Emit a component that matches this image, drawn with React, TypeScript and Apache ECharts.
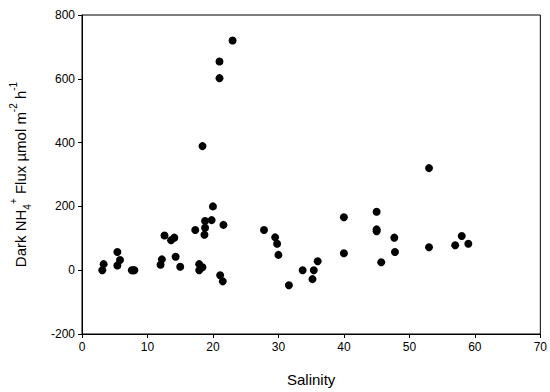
import React, { useEffect, useRef } from "react";
import * as echarts from "echarts";

const salinity = [3.1, 3.3, 5.4, 5.4, 5.8, 7.6, 7.8, 8.0, 12.0, 12.2, 12.6, 13.6, 14.1, 14.3, 15.0, 17.3, 18.4, 17.9, 17.9, 18.4, 18.7, 18.8, 18.8, 19.8, 20.0, 21.0, 21.0, 23.0, 21.6, 21.1, 21.5, 27.8, 29.5, 29.8, 30.0, 31.6, 33.7, 35.4, 35.2, 36.0, 40.0, 40.0, 45.0, 45.0, 45.0, 45.7, 47.7, 47.8, 53.0, 53.0, 57.0, 58.0, 59.0];
const flux = [0, 19, 57, 15, 32, 0, 0, 0, 17, 34, 109, 94, 102, 42, 11, 126, 389, 19, 0, 9, 111, 133, 154, 157, 200, 654, 602, 720, 142, -16, -35, 126, 103, 83, 48, -47, 0, 0, -28, 28, 166, 53, 183, 128, 122, 25, 102, 57, 320, 72, 78, 107, 83];

const xTitle = "Salinity";
const FONT = "Liberation Sans, Arial, sans-serif";

export default function App() {
  const ref = useRef<HTMLDivElement>(null);
  useEffect(() => {
    if (!ref.current) return;
    const chart = echarts.init(ref.current, null, { renderer: "svg" });
    const points = salinity.map((s, i) => [s, flux[i]]);
    chart.setOption({
      animation: false,
      backgroundColor: "#fff",
      textStyle: { fontFamily: FONT },
      grid: {
        left: 81,
        right: 8,
        top: 15,
        bottom: 58,
        show: true,
        borderColor: "#000",
        borderWidth: 1,
      },
      xAxis: {
        type: "value",
        min: 0,
        max: 70,
        interval: 10,
        name: xTitle,
        nameLocation: "middle",
        nameGap: 38,
        nameTextStyle: { fontSize: 15, color: "#000", fontFamily: FONT },
        axisLine: { show: true, onZero: false, lineStyle: { color: "#000", width: 1 } },
        axisTick: { show: true, inside: false, length: 4, lineStyle: { color: "#000" } },
        axisLabel: { fontSize: 12, color: "#000", margin: 7, fontFamily: FONT },
        splitLine: { show: false },
      },
      yAxis: {
        type: "value",
        min: -200,
        max: 800,
        interval: 200,
        name: "{b|Dark NH}{sub|4}{sup|+}{b| Flux µmol m}{sup|-2}{b| h}{sup|-1}",
        nameLocation: "middle",
        nameRotate: 90,
        nameGap: 50,
        nameTextStyle: {
          color: "#000",
          fontFamily: FONT,
          rich: {
            b: { fontSize: 15, color: "#000", fontFamily: FONT, lineHeight: 24, verticalAlign: "middle" },
            sub: { fontSize: 10, color: "#000", fontFamily: FONT, lineHeight: 24, verticalAlign: "bottom" },
            sup: { fontSize: 10, color: "#000", fontFamily: FONT, lineHeight: 24, verticalAlign: "top" },
          },
        },
        axisLine: { show: true, onZero: false, lineStyle: { color: "#000", width: 1 } },
        axisTick: { show: true, inside: false, length: 4, lineStyle: { color: "#000" } },
        axisLabel: { fontSize: 12, color: "#000", margin: 7, fontFamily: FONT },
        splitLine: { show: false },
      },
      series: [
        {
          type: "scatter",
          data: points,
          symbol: "circle",
          symbolSize: 8,
          itemStyle: { color: "#000", opacity: 1 },
        },
      ],
    });
    return () => chart.dispose();
  }, []);
  return <div ref={ref} style={{ width: 550, height: 392, position: "absolute", left: 0, top: 0 }} />;
}
